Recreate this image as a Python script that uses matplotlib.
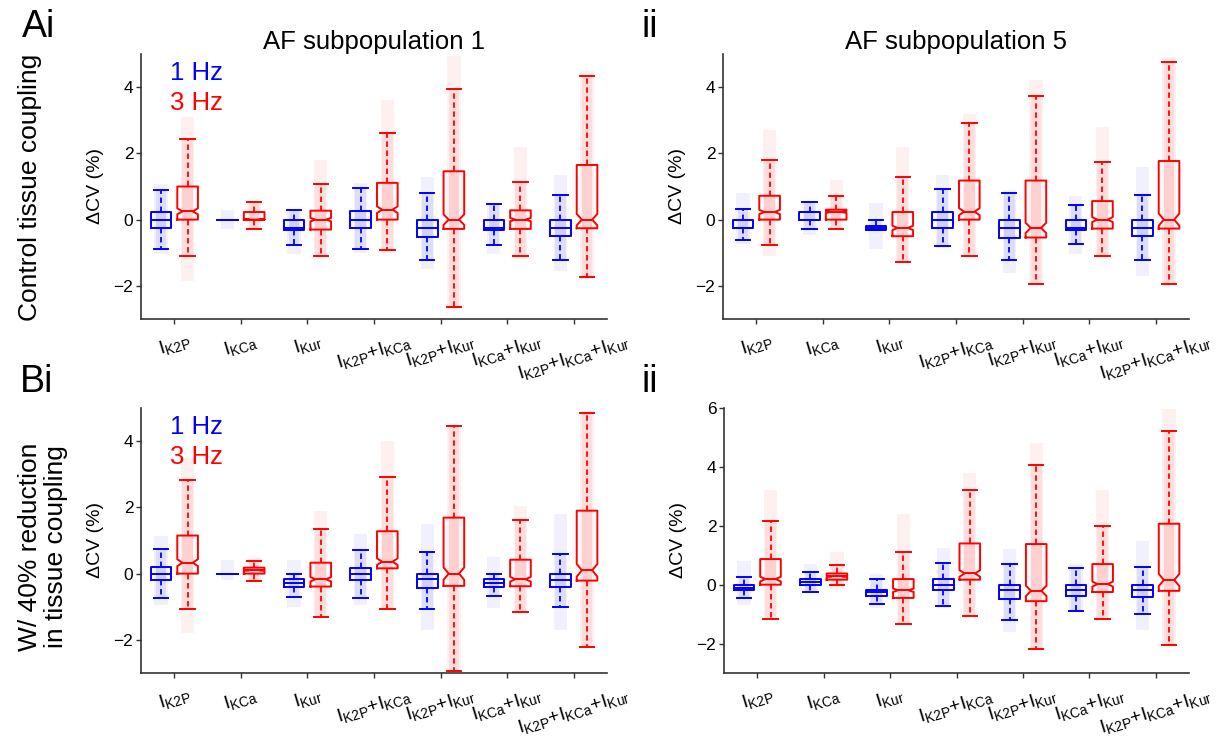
import numpy as np
import matplotlib
matplotlib.use('Agg')
import matplotlib.pyplot as plt

plt.rcParams['font.family'] = ['Liberation Sans', 'DejaVu Sans']
plt.rcParams['mathtext.fontset'] = 'custom'
plt.rcParams['mathtext.rm'] = 'Liberation Sans'
plt.rcParams['mathtext.it'] = 'Liberation Sans:italic'
plt.rcParams['mathtext.bf'] = 'Liberation Sans:bold'

# Categories (current blocks)
categories = [r'$\mathrm{I_{K2P}}$', r'$\mathrm{I_{KCa}}$', r'$\mathrm{I_{Kur}}$',
              r'$\mathrm{I_{K2P}{+}I_{KCa}}$', r'$\mathrm{I_{K2P}{+}I_{Kur}}$',
              r'$\mathrm{I_{KCa}{+}I_{Kur}}$', r'$\mathrm{I_{K2P}{+}I_{KCa}{+}I_{Kur}}$']

# per category: [cloud min, whisker low, q1, median, q3, whisker high, cloud max]  (dCV %)
ai_1hz = [[-1.05, -0.88, -0.25, 0.00, 0.23, 0.90, 1.08],
          [-0.27, 0.00, 0.00, 0.00, 0.00, 0.00, 0.28],
          [-1.05, -0.76, -0.30, -0.25, 0.00, 0.28, 0.30],
          [-1.00, -0.89, -0.26, 0.00, 0.25, 0.96, 1.10],
          [-1.50, -1.21, -0.52, -0.25, 0.00, 0.79, 1.30],
          [-1.05, -0.76, -0.30, -0.25, 0.00, 0.47, 0.50],
          [-1.55, -1.21, -0.50, -0.25, 0.00, 0.75, 1.35]]
ai_3hz = [[-1.85, -1.10, 0.00, 0.25, 1.00, 2.43, 3.10],
          [-0.30, -0.27, 0.00, 0.00, 0.23, 0.52, 0.55],
          [-1.10, -1.10, -0.30, 0.00, 0.27, 1.09, 1.80],
          [-1.00, -0.93, 0.00, 0.30, 1.11, 2.63, 3.60],
          [-2.70, -2.65, -0.28, 0.00, 1.46, 3.93, 4.95],
          [-1.20, -1.10, -0.28, 0.00, 0.28, 1.13, 2.20],
          [-1.80, -1.74, -0.26, 0.00, 1.65, 4.33, 4.50]]
aii_1hz = [[-0.75, -0.61, -0.26, -0.25, 0.00, 0.32, 0.80],
           [-0.45, -0.28, 0.00, 0.23, 0.23, 0.53, 0.55],
           [-0.90, -0.30, -0.30, -0.25, -0.20, 0.00, 0.50],
           [-0.85, -0.81, -0.26, 0.00, 0.24, 0.91, 1.35],
           [-1.60, -1.23, -0.54, -0.25, 0.00, 0.79, 0.90],
           [-1.05, -0.73, -0.30, -0.25, 0.00, 0.43, 0.70],
           [-1.70, -1.23, -0.50, -0.25, 0.00, 0.74, 1.60]]
aii_3hz = [[-1.10, -0.78, 0.00, 0.23, 0.72, 1.80, 2.70],
           [-0.30, -0.28, 0.00, 0.23, 0.30, 0.70, 1.20],
           [-1.30, -1.28, -0.50, -0.25, 0.23, 1.28, 2.20],
           [-1.10, -1.11, 0.00, 0.24, 1.18, 2.93, 3.20],
           [-1.95, -1.95, -0.54, -0.25, 1.18, 3.72, 4.20],
           [-1.10, -1.11, -0.27, 0.00, 0.56, 1.74, 2.80],
           [-1.95, -1.95, -0.27, 0.00, 1.77, 4.77, 4.90]]
bi_1hz = [[-0.95, -0.74, -0.20, 0.00, 0.19, 0.74, 1.15],
          [-0.20, 0.00, 0.00, 0.00, 0.00, 0.00, 0.40],
          [-1.00, -0.70, -0.39, -0.29, -0.17, 0.00, 0.40],
          [-0.95, -0.74, -0.19, 0.00, 0.18, 0.72, 1.20],
          [-1.70, -1.06, -0.44, -0.17, 0.00, 0.64, 1.50],
          [-1.05, -0.68, -0.39, -0.29, -0.16, 0.00, 0.50],
          [-1.70, -1.02, -0.40, -0.18, 0.00, 0.60, 1.80]]
bi_3hz = [[-1.78, -1.06, 0.00, 0.33, 1.15, 2.84, 3.50],
          [-0.22, -0.22, 0.00, 0.10, 0.18, 0.39, 0.50],
          [-1.35, -1.32, -0.39, -0.17, 0.33, 1.35, 1.90],
          [-1.06, -1.06, 0.16, 0.36, 1.28, 2.93, 4.00],
          [-2.95, -2.93, -0.37, 0.00, 1.69, 4.47, 4.50],
          [-1.20, -1.17, -0.38, -0.17, 0.42, 1.62, 2.05],
          [-2.20, -2.20, -0.21, 0.10, 1.90, 4.85, 4.90]]
bii_1hz = [[-0.70, -0.45, -0.19, -0.10, 0.00, 0.26, 0.80],
           [-0.25, -0.24, 0.00, 0.10, 0.19, 0.43, 0.70],
           [-0.80, -0.65, -0.37, -0.26, -0.17, 0.19, 0.35],
           [-0.80, -0.71, -0.17, 0.00, 0.19, 0.75, 1.25],
           [-1.60, -1.21, -0.50, -0.19, 0.00, 0.70, 1.20],
           [-0.90, -0.89, -0.38, -0.17, 0.00, 0.55, 0.70],
           [-1.55, -1.00, -0.41, -0.19, 0.00, 0.60, 1.50]]
bii_3hz = [[-1.20, -1.17, 0.00, 0.19, 0.87, 2.15, 3.20],
           [-0.15, 0.00, 0.17, 0.28, 0.38, 0.68, 1.10],
           [-1.35, -1.32, -0.45, -0.19, 0.19, 1.11, 2.40],
           [-1.10, -1.06, 0.17, 0.38, 1.40, 3.22, 3.80],
           [-2.20, -2.20, -0.56, -0.21, 1.38, 4.08, 4.80],
           [-1.20, -1.18, -0.25, 0.02, 0.70, 2.00, 3.20],
           [-2.05, -2.05, -0.21, 0.16, 2.07, 5.22, 5.95]]

n_sims = 300  # used for notch size (1.57*IQR/sqrt(n))
blue, red = '#0000ff', '#ff0000'
W = 0.31


def draw_group(ax, rows, offset, color, notch):
    pos = np.arange(1, 8) + offset
    stats = []
    for p, r in zip(pos, rows):
        lo, wlo, q1, med, q3, whi, hi = r
        half = 1.57 * (q3 - q1) / np.sqrt(n_sims)
        stats.append(dict(med=med, q1=q1, q3=q3, whislo=wlo, whishi=whi, fliers=[],
                          cilo=max(q1, med - half), cihi=min(q3, med + half)))
        # spread of the simulated points shown as faint bands
        ax.bar(p, hi - lo, bottom=lo, width=0.2, color=color, alpha=0.06, lw=0, zorder=1)
        ax.bar(p, whi - wlo, bottom=wlo, width=0.16, color=color, alpha=0.08, lw=0, zorder=1)
        ax.bar(p, q3 - q1, bottom=q1, width=0.16, color=color, alpha=0.06, lw=0, zorder=1)
    ax.bxp(stats, positions=pos, widths=W, capwidths=W * 0.7, shownotches=notch,
           showfliers=False, manage_ticks=False,
           boxprops=dict(color=color, lw=1.4),
           whiskerprops=dict(color=color, lw=1.3, linestyle=(0, (3, 2))),
           capprops=dict(color=color, lw=1.4),
           medianprops=dict(color=color, lw=1.4))


fig = plt.figure(figsize=(12.17, 7.40), dpi=100)
FW, FH = 1217, 740
boxes = {'ai': (141, 54, 607, 319), 'aii': (723, 54, 1189, 319),
         'bi': (141, 408, 607, 673), 'bii': (724, 408, 1189, 673)}
panels = [('ai', ai_1hz, ai_3hz, (-3, 5), [-2, 0, 2, 4], 'AF subpopulation 1', True),
          ('aii', aii_1hz, aii_3hz, (-3, 5), [-2, 0, 2, 4], 'AF subpopulation 5', False),
          ('bi', bi_1hz, bi_3hz, (-3, 5), [-2, 0, 2, 4], None, True),
          ('bii', bii_1hz, bii_3hz, (-3, 6), [-2, 0, 2, 4, 6], None, False)]

for key, d1, d3, ylim, yt, title, legend in panels:
    x0, y0, x1, y1 = boxes[key]
    ax = fig.add_axes([x0 / FW, 1 - y1 / FH, (x1 - x0) / FW, (y1 - y0) / FH])
    draw_group(ax, d1, -0.2, blue, False)
    draw_group(ax, d3, 0.2, red, True)
    ax.set_xlim(0.5, 7.5)
    ax.set_ylim(*ylim)
    ax.set_yticks(yt)
    ax.set_yticklabels([f'{v}'.replace('-', '\u2212') for v in yt], fontsize=12.5)
    ax.set_xticks(np.arange(1, 8))
    ax.set_xticklabels(categories, rotation=17, ha='center', va='top', fontsize=14)
    ax.tick_params(axis='both', direction='out', length=3.5, width=1, color='#333333')
    ax.tick_params(axis='x', pad=5)
    ax.tick_params(axis='y', pad=2)
    for s in ['top', 'right']:
        ax.spines[s].set_visible(False)
    for s in ['left', 'bottom']:
        ax.spines[s].set_color('#333333')
        ax.spines[s].set_linewidth(1.2)
    ax.set_ylabel('\u0394CV (%)', fontsize=14)
    ax.yaxis.set_label_coords(-0.079, 0.5)
    if title:
        ax.set_title(title, fontsize=18.5, pad=1)
    if legend:
        ax.text(0.062, 0.93, '1 Hz', color=blue, fontsize=18.5, transform=ax.transAxes, va='center')
        ax.text(0.062, 0.815, '3 Hz', color=red, fontsize=18.5, transform=ax.transAxes, va='center')

# panel letters and row labels
fig.text(22 / FW, 1 - 37 / FH, 'Ai', fontsize=27, va='baseline')
fig.text(641 / FW, 1 - 37 / FH, 'ii', fontsize=27, va='baseline')
fig.text(20 / FW, 1 - 392 / FH, 'Bi', fontsize=27, va='baseline')
fig.text(641 / FW, 1 - 392 / FH, 'ii', fontsize=27, va='baseline')
fig.text(30 / FW, 1 - 187 / FH, 'Control tissue coupling', fontsize=19, rotation=90,
         ha='center', va='center')
fig.text(43 / FW, 1 - 547 / FH, 'W/ 40% reduction\nin tissue coupling', fontsize=19, rotation=90,
         ha='center', va='center', multialignment='center', linespacing=1.15)

fig.savefig('out.png', dpi=100)
